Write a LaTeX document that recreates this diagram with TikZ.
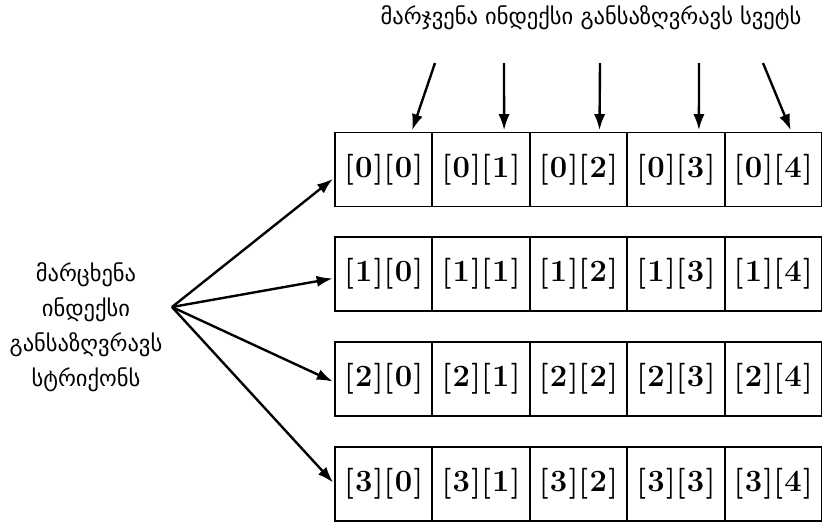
\documentclass[tikz,border=0pt]{standalone}
\usepackage{fontspec}
\newfontfamily\geofont{DejaVu Sans}
\usetikzlibrary{arrows.meta}

% one subscript pair, e.g. [1][3]
\newcommand{\subpair}[2]{[\kern1pt#1\kern1pt][\kern1pt#2\kern1pt]}

\begin{document}
\begin{tikzpicture}[x=0.025cm, y=-0.025cm,
    cell/.style={rectangle, draw, line width=1.3pt, minimum width=2.435cm,
        minimum height=1.85cm, inner sep=0pt,
        font=\fontsize{22}{24}\selectfont\bfseries},
    arr/.style={-{Latex[length=4mm,width=2.8mm]}, line width=1.7pt, shorten >=1pt},
    lbl/.style={font=\geofont\fontsize{16}{25}\selectfont}]
    \useasboundingbox (0,0) rectangle (822,522);

    % Draw array cells
    \foreach \r in {0,...,3}
        \foreach \c in {0,...,4}
            \node[cell] (c\r\c) at (383.7+97.4*\c, 169.5+104.7*\r) {\subpair{\r}{\c}};

    % Labels
    \node[lbl] (colhdr) at (591,18) {მარჯვენა ინდექსი განსაზღვრავს სვეტს};
    \node[lbl, align=center] (rowhdr) at (86,327)
        {მარცხენა\\ინდექსი\\განსაზღვრავს\\სტრიქონს};

    % Draw column arrows
    \foreach \c/\sx/\dx in {0/435/28, 1/504/23, 2/600/21, 3/699/23, 4/763/18} {
        \coordinate (t\c) at (\sx,63);
        \draw[arr] (t\c) -- ([xshift=\dx*0.025cm]c0\c.north);
    }

    % Draw row arrows
    \coordinate (fan) at (172,307);
    \foreach \r/\dy in {0/-0.21, 1/-0.1, 2/-0.08, 3/0}
        \draw[arr] (fan) -- ([yshift=\dy cm]c\r0.west);
\end{tikzpicture}
\end{document}
